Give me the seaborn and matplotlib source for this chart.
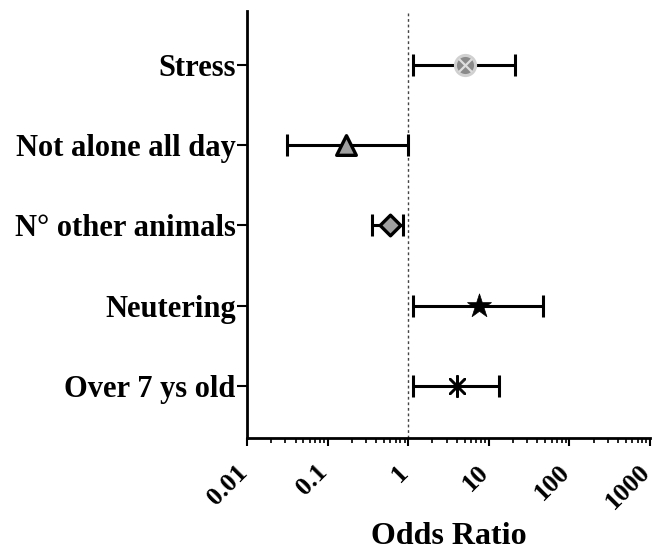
import numpy as np
import pandas as pd
import seaborn as sns
import matplotlib.pyplot as plt
import matplotlib.transforms as mtransforms

# odds ratios with 95% CI
labels = ["Stress", "Not alone all day", "N° other animals", "Neutering", "Over 7 ys old"]
odds = [5.1, 0.17, 0.59, 7.5, 4.0]
lower = [1.15, 0.031, 0.36, 1.15, 1.16]
upper = [21.0, 0.99, 0.86, 47.0, 13.5]
xticks = [0.01, 0.1, 1, 10, 100, 1000]
xtick_labels = ["0.01", "0.1", "1", "10", "100", "1000"]

df = pd.DataFrame({"label": labels, "odds": odds, "lower": lower, "upper": upper})

sns.set_style("ticks", {"axes.edgecolor": "black", "text.color": "black",
                        "axes.labelcolor": "black",
                        "xtick.color": "black", "ytick.color": "black"})
plt.rcParams['font.family'] = ['Liberation Serif', 'DejaVu Serif']
plt.rcParams['font.weight'] = 'bold'

fig = plt.figure(figsize=(6.56, 5.56), dpi=100)
ax = fig.add_axes([0.3765, 0.2122, 0.991 - 0.3765, 0.980 - 0.2122])

# reference line at OR = 1
ax.axvline(1, color='#444444', lw=1, ls=(0, (2, 2)), zorder=1)

# confidence intervals
xerr = np.array([df["odds"] - df["lower"], df["upper"] - df["odds"]])
ax.errorbar(df["odds"], df["label"], xerr=xerr, fmt='none', ecolor='black',
            elinewidth=2.2, capsize=8, capthick=2.2, zorder=2)

# markers, one style per row
sns.scatterplot(x=[odds[0]], y=[labels[0]], marker='o', s=210, color='#8a8a8a',
                edgecolor='#d0d0d0', linewidth=2.2, ax=ax, zorder=3)
sns.scatterplot(x=[odds[0]], y=[labels[0]], marker='x', s=90, color='#dddddd',
                linewidth=1.6, ax=ax, zorder=4)
sns.scatterplot(x=[odds[1]], y=[labels[1]], marker='^', s=200, color='#a0a0a0',
                edgecolor='black', linewidth=2.4, ax=ax, zorder=3)
sns.scatterplot(x=[odds[2]], y=[labels[2]], marker='D', s=110, color='#a0a0a0',
                edgecolor='black', linewidth=2.4, ax=ax, zorder=3)
sns.scatterplot(x=[odds[3]], y=[labels[3]], marker='*', s=330, color='black',
                edgecolor='black', linewidth=0.5, ax=ax, zorder=3)
sns.scatterplot(x=[odds[4]], y=[labels[4]], marker=(8, 2, 0), s=220, color='black',
                linewidth=1.8, ax=ax, zorder=3)

ax.set_xscale('log')
ax.set_xlim(0.01, 1000)
ax.set_ylim(4.65, -0.67)
ax.set_xticks(xticks)
ax.set_xticklabels(xtick_labels, rotation=45, ha='right', va='center',
                   rotation_mode='anchor', fontsize=19, fontweight='bold')
ax.tick_params(axis='y', labelsize=22, width=1.5, length=7, pad=1)
ax.tick_params(axis='x', which='major', width=1.5, length=6, pad=15)
ax.tick_params(axis='x', which='minor', width=1.2, length=3.5)
for t in ax.get_yticklabels():
    t.set_fontweight('bold')

# nudge rotated tick labels a bit left so "1000" stays inside
shift = mtransforms.ScaledTranslation(-2.5 / 72, -1 / 72, fig.dpi_scale_trans)
for t in ax.get_xticklabels():
    t.set_transform(t.get_transform() + shift)

ax.set_xlabel("Odds Ratio", fontsize=23, fontweight='bold', labelpad=6)
ax.set_ylabel("")

sns.despine(ax=ax)
for s in ['left', 'bottom']:
    ax.spines[s].set_linewidth(2)

fig.savefig("out.png", dpi=100)
